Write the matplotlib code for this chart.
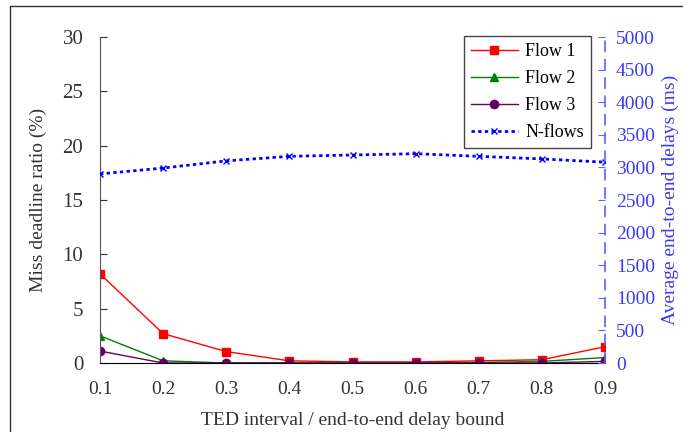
import matplotlib.pyplot as plt
from matplotlib.patches import Rectangle

plt.rcParams['font.family'] = ['Liberation Serif', 'DejaVu Serif']

ratio = [0.1, 0.2, 0.3, 0.4, 0.5, 0.6, 0.7, 0.8, 0.9]
flow1 = [8.2, 2.7, 1.05, 0.2, 0.1, 0.1, 0.2, 0.3, 1.5]
flow2 = [2.5, 0.2, 0.0, 0.0, 0.0, 0.0, 0.05, 0.15, 0.5]
flow3 = [1.1, 0.0, 0.0, 0.0, 0.0, 0.0, 0.0, 0.0, 0.15]
nflows = [2900, 2990, 3100, 3170, 3190, 3210, 3170, 3130, 3080]

blue_txt = '#3a3af5'

fig = plt.figure(figsize=(6.83, 4.32), dpi=100)
ax = fig.add_axes([100/683, 1-363/432, (605-100)/683, (363-37)/432])
ax2 = ax.twinx()

l1, = ax.plot(ratio, flow1, color='red', marker='s', ms=6, lw=1, label='Flow 1')
l2, = ax.plot(ratio, flow2, color='green', marker='^', ms=6, lw=1, label='Flow 2')
l3, = ax.plot(ratio, flow3, color='#660066', marker='o', ms=6, lw=1, label='Flow 3')
l4, = ax2.plot(ratio, nflows, color='blue', marker='x', ms=5, lw=2, ls=(0, (1.2, 1.2)), label='N-flows')

ax.set_xlim(0.1, 0.9)
ax.set_ylim(0, 30)
ax2.set_ylim(0, 5000)
ax.set_xticks(ratio)
ax.set_xticklabels(['%.1f' % r for r in ratio])
ax.set_yticks(range(0, 31, 5))
ax2.set_yticks(range(0, 5001, 500))

for s in ['top', 'right']:
    ax.spines[s].set_visible(False)
ax2.spines['top'].set_visible(False)
ax2.spines['left'].set_visible(False)
ax2.spines['bottom'].set_visible(False)
ax.spines['left'].set_color('#555555')
ax.spines['bottom'].set_color('black')
ax2.spines['right'].set_color('#6060ff')
ax2.spines['right'].set_linestyle((0, (6, 5)))
ax2.spines['right'].set_linewidth(1.2)

ax.tick_params(axis='y', direction='in', length=5, labelsize=15, pad=12, colors='#333333')
ax.tick_params(axis='x', direction='in', length=0, labelsize=14, pad=13, colors='#333333')
ax2.tick_params(axis='y', direction='in', length=5, labelsize=14, pad=8, colors='#6060ff',
                labelcolor=blue_txt)

ax.set_xlabel('TED interval / end-to-end delay bound', fontsize=14, color='#333333', labelpad=10)
ax.set_ylabel('Miss deadline ratio (%)', fontsize=14, color='#333333', labelpad=11)
ax2.set_ylabel('Average end-to-end delays (ms)', fontsize=14, color=blue_txt, labelpad=5)

leg = ax2.legend(handles=[l1, l2, l3, l4], loc='upper right', bbox_to_anchor=(591/683, 1-36/432),
                 bbox_transform=fig.transFigure, fontsize=13, fancybox=False, framealpha=1,
                 edgecolor='#444444', handlelength=2.6, borderpad=0.4, labelspacing=0.55,
                 handletextpad=0.4, borderaxespad=0)
leg.get_frame().set_linewidth(1)

fig.patches.append(Rectangle((10/683, -0.05), 1.0, 1 - 6/432 + 0.05, transform=fig.transFigure,
                             fill=False, edgecolor='#333333', lw=1))

fig.savefig('out.png', dpi=100)
